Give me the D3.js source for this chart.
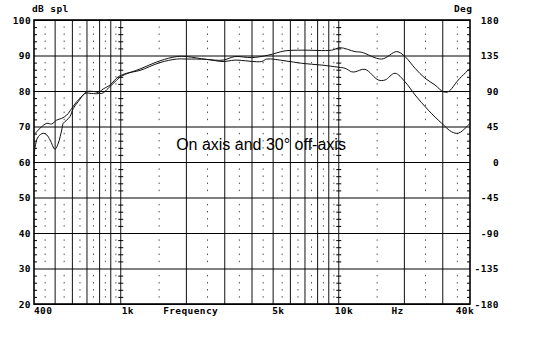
<!DOCTYPE html>
<html>
<head>
<meta charset="utf-8">
<script src="https://cdn.jsdelivr.net/npm/d3@7"></script>
<style>
  body { margin: 0; background: #fff; }
  .lbl { font-family: "DejaVu Sans Mono", monospace; font-weight: bold; font-size: 9.5px; letter-spacing: 0.4px; fill: #000; }
</style>
</head>
<body>
<div id="chart"></div>
<script>
// on-axis response (Hz, dB)
const onFreq = [400, 426, 458, 482, 508, 536, 565, 596, 628, 662, 698, 762, 818, 877, 941, 1010, 1225, 1513, 1806, 2006, 2479, 2945, 3342, 3988, 4752, 5668, 6762, 9280, 10130, 11880, 12750, 15740, 18450, 20130, 22380, 24870, 27640, 30170, 31810, 35340, 40000]
const onDb = [67.6, 69.5, 70.9, 70.7, 71.8, 72.3, 73.2, 75.1, 77, 78.4, 79.8, 79.8, 79.3, 80.8, 82.6, 84.2, 86.2, 88.5, 89.7, 89.7, 88.9, 88.7, 89.7, 89.4, 90.1, 91.3, 91.5, 91.5, 92.2, 91.1, 90.9, 89, 91.1, 89.7, 86.4, 83.6, 81.7, 79.8, 79.8, 83.1, 86.4]

// 30 degree off-axis response (Hz, dB)
const offFreq = [400, 404, 418, 441, 458, 474, 499, 517, 536, 545, 565, 585, 606, 638, 685, 736, 789, 818, 893, 974, 1065, 1225, 1513, 1806, 2006, 2479, 2945, 3342, 4430, 4672, 5668, 6762, 8352, 9950, 10680, 11470, 11880, 13200, 15190, 16300, 18120, 20130, 22380, 25750, 29670, 32970, 35340, 38620, 40000]
const offDb = [59.5, 64, 67.1, 68.1, 67.6, 66.2, 63.6, 65.3, 69, 70.9, 71.8, 72.8, 75.1, 77, 79.3, 79.3, 79.3, 80.3, 81.7, 84, 85, 85.8, 88, 89, 89, 88.9, 88.3, 88.7, 88.3, 89, 88.5, 87.8, 87.3, 86.7, 86.4, 85.4, 85.4, 86.1, 83.1, 83.1, 85, 82.6, 78.9, 74.6, 70.9, 68.5, 68.1, 69.9, 71]

const dbTicks = [20, 30, 40, 50, 60, 70, 80, 90, 100]
const degTicks = [-180, -135, -90, -45, 0, 45, 90, 135, 180]
const gridFreqs = [500, 600, 700, 800, 900, 1000, 2000, 3000, 4000, 5000, 6000, 7000, 8000, 9000, 10000, 20000, 30000]
const dotFreqs = [450, 550, 650, 750, 850, 950, 1500, 2500, 3500, 4500, 5500, 6500, 7500, 8500, 9500, 15000, 25000, 35000]
const rulerFreqs = [1000, 10000]
const freqLabels = [
  { text: '400', f: 400, dx: 0, anchor: 'start' },
  { text: '1k', f: 1000, dx: 1, anchor: 'start' },
  { text: 'Frequency', f: 1500, dx: 4, anchor: 'start' },
  { text: '5k', f: 5000, dx: -1, anchor: 'start' },
  { text: '10k', f: 10000, dx: -4, anchor: 'start' },
  { text: 'Hz', f: 20000, dx: -13, anchor: 'start' },
  { text: '40k', f: 40000, dx: 4, anchor: 'end' }
]

const width = 533
const height = 353
const mLeft = 34, mRight = 470, mTop = 20, mBottom = 304

const svg = d3.select('#chart').append('svg')
  .attr('width', width)
  .attr('height', height)

const x = d3.scaleLog().domain([400, 40000]).range([mLeft, mRight])
const y = d3.scaleLinear().domain([20, 100]).range([mBottom, mTop])
const yDeg = d3.scaleLinear().domain([-180, 180]).range([mBottom, mTop])

let minor = d3.range(22, 100, 2).filter(d => d % 10 !== 0)

// dotted half-step lines
let dots = svg.append('g').attr('fill', '#555')
dotFreqs.forEach(f => {
  dots.selectAll(null)
    .data(minor)
    .join('rect')
    .attr('x', x(f) - 0.5)
    .attr('y', d => y(d) - 0.75)
    .attr('width', 1)
    .attr('height', 1.5)
})

// major grid
svg.append('g')
  .attr('stroke', '#111')
  .attr('stroke-width', 1)
  .selectAll('line')
  .data(gridFreqs)
  .join('line')
  .attr('x1', d => x(d))
  .attr('x2', d => x(d))
  .attr('y1', mTop)
  .attr('y2', mBottom)

svg.append('g')
  .attr('stroke', '#000')
  .attr('stroke-width', 1)
  .selectAll('line')
  .data(dbTicks)
  .join('line')
  .attr('x1', mLeft)
  .attr('x2', mRight)
  .attr('y1', d => y(d) + 0.5)
  .attr('y2', d => y(d) + 0.5)

// ruler ticks on decade lines and axes
let ticks = svg.append('g').attr('stroke', '#000').attr('stroke-width', 1)
rulerFreqs.forEach(f => {
  ticks.selectAll(null)
    .data(minor)
    .join('line')
    .attr('x1', x(f) - 2.5)
    .attr('x2', x(f) + 2.5)
    .attr('y1', d => y(d) + 0.5)
    .attr('y2', d => y(d) + 0.5)
})
ticks.selectAll(null)
  .data(minor)
  .join('line')
  .attr('x1', mLeft)
  .attr('x2', mLeft + 3)
  .attr('y1', d => y(d) + 0.5)
  .attr('y2', d => y(d) + 0.5)
ticks.selectAll(null)
  .data(minor)
  .join('line')
  .attr('x1', mRight - 3)
  .attr('x2', mRight)
  .attr('y1', d => y(d) + 0.5)
  .attr('y2', d => y(d) + 0.5)

// frame
svg.append('rect')
  .attr('x', mLeft)
  .attr('y', mTop)
  .attr('width', mRight - mLeft)
  .attr('height', mBottom - mTop)
  .attr('fill', 'none')
  .attr('stroke', '#000')
  .attr('stroke-width', 1.6)

// curves
const line = d3.line()
  .x(d => x(d[0]))
  .y(d => y(d[1]))
  .curve(d3.curveCatmullRom.alpha(0.5))

svg.append('path')
  .datum(d3.zip(onFreq, onDb))
  .attr('d', line)
  .attr('fill', 'none')
  .attr('stroke', '#111')
  .attr('stroke-width', 1)

svg.append('path')
  .datum(d3.zip(offFreq, offDb))
  .attr('d', line)
  .attr('fill', 'none')
  .attr('stroke', '#111')
  .attr('stroke-width', 1)

// labels
svg.append('g').selectAll('text')
  .data(dbTicks)
  .join('text')
  .attr('class', 'lbl')
  .attr('x', 31)
  .attr('y', d => y(d) + 3.5)
  .attr('text-anchor', 'end')
  .text(d => d)

svg.append('g').selectAll('text')
  .data(degTicks)
  .join('text')
  .attr('class', 'lbl')
  .attr('x', 499)
  .attr('y', d => yDeg(d) + 3.5)
  .attr('text-anchor', 'end')
  .text(d => d)

svg.append('g').selectAll('text')
  .data(freqLabels)
  .join('text')
  .attr('class', 'lbl')
  .attr('x', d => x(d.f) + d.dx)
  .attr('y', 314)
  .attr('text-anchor', d => d.anchor)
  .text(d => d.text)

svg.append('text')
  .attr('class', 'lbl')
  .attr('x', 32)
  .attr('y', 12)
  .text('dB spl')

svg.append('text')
  .attr('class', 'lbl')
  .attr('x', 454)
  .attr('y', 12)
  .text('Deg')

svg.append('text')
  .attr('x', 261)
  .attr('y', 150)
  .attr('text-anchor', 'middle')
  .attr('font-family', 'Liberation Sans, Arial, sans-serif')
  .attr('font-size', 16)
  .attr('fill', '#000')
  .text('On axis and 30° off-axis')
</script>
</body>
</html>
